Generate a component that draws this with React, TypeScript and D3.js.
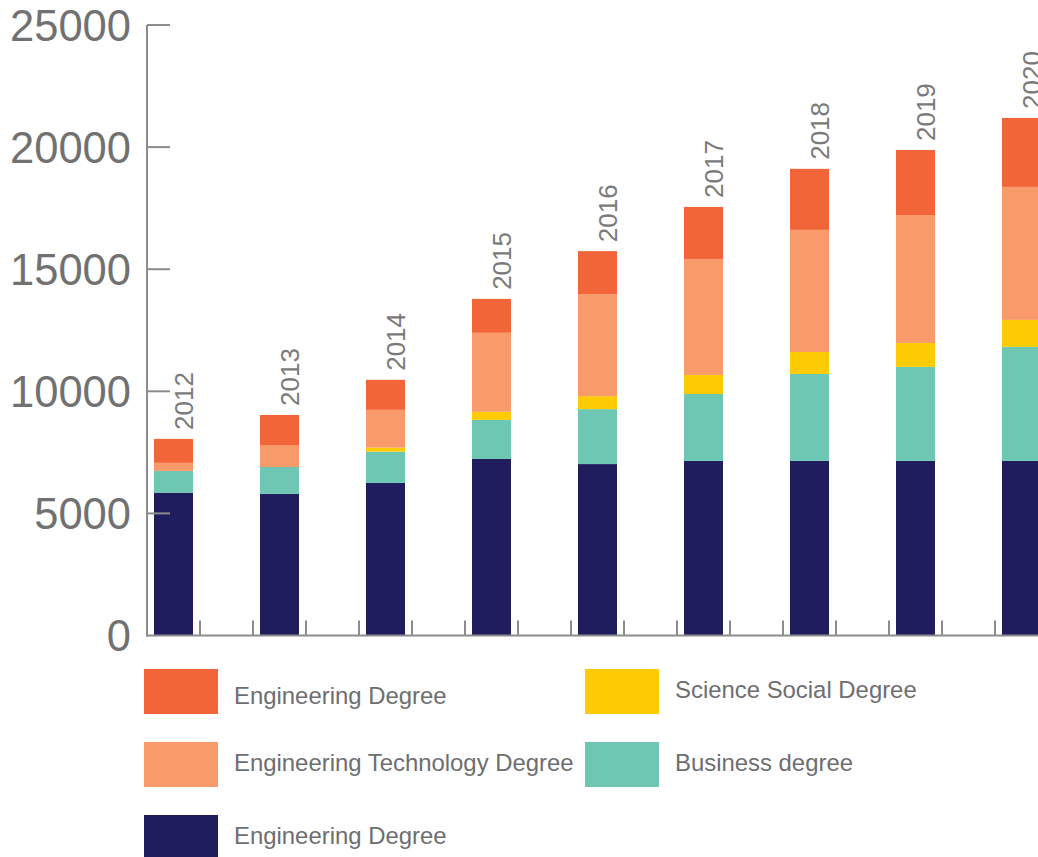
import React from "react";
import * as d3 from "d3";

const years = ["2012", "2013", "2014", "2015", "2016", "2017", "2018", "2019", "2020"];
const engineering = [5850, 5800, 6250, 7230, 7020, 7150, 7150, 7150, 7150];
const business = [890, 1100, 1280, 1600, 2250, 2740, 3560, 3850, 4670];
const scienceSocial = [0, 0, 165, 330, 530, 780, 900, 980, 1105];
const engTechnology = [330, 900, 1545, 3235, 4180, 4750, 5000, 5240, 5445];
const engineering2 = [980, 1230, 1230, 1390, 1760, 2130, 2500, 2660, 2825];
const yTicks = [0, 5000, 10000, 15000, 20000, 25000];

const seriesKeys = ["eng", "bus", "sci", "tech", "eng2"];
const seriesColors: Record<string, string> = {
  eng: "#201d5e",
  bus: "#6ec7b2",
  sci: "#fecb05",
  tech: "#f89a6a",
  eng2: "#f26538",
};

const legendItems = [
  { key: "eng2", label: "Engineering Degree", col: 0, row: 0 },
  { key: "tech", label: "Engineering Technology Degree", col: 0, row: 1 },
  { key: "eng", label: "Engineering Degree", col: 0, row: 2 },
  { key: "sci", label: "Science Social Degree", col: 1, row: 0 },
  { key: "bus", label: "Business degree", col: 1, row: 1 },
];

export default function App() {
  const W = 1038;
  const H = 857;
  const axisX = 147;
  const step = 106;
  const rows = years.map((y, i) => ({
    year: y,
    eng: engineering[i],
    bus: business[i],
    sci: scienceSocial[i],
    tech: engTechnology[i],
    eng2: engineering2[i],
  }));
  const stack = d3.stack<any>().keys(seriesKeys)(rows);

  const x = d3.scaleBand<string>().domain(years).range([axisX, axisX + step * years.length]);
  const y = d3.scaleLinear().domain([0, 25000]).range([635.5, 25]);
  const barOff = 7;
  const barW = 39;
  const axisColor = "#8c8c8c";
  const textColor = "#717171";
  const font = "'Liberation Sans', Arial, sans-serif";

  const colX = [144, 585];
  const textX = [234, 675];
  const rowY = [669, 742, 815];

  return (
    <svg width={W} height={H} style={{ position: "absolute", left: 0, top: 0, background: "#fff" }}>
      {/* bars */}
      {stack.map((s) => (
        <g key={s.key} fill={seriesColors[s.key]}>
          {s.map((d, i) => {
            const h = y(d[0]) - y(d[1]);
            if (h <= 0) return null;
            return (
              <rect
                key={i}
                x={(x(years[i]) as number) + barOff}
                y={y(d[1])}
                width={barW}
                height={h}
              />
            );
          })}
        </g>
      ))}

      {/* year labels */}
      {rows.map((r, i) => {
        const total = stack[stack.length - 1][i][1];
        const bx = (x(r.year) as number) + barOff + barW;
        const by = y(total) - 9;
        return (
          <text
            key={r.year}
            transform={`translate(${bx},${by}) rotate(-90)`}
            fontFamily={font}
            fontSize={26}
            fill="#7a7a7a"
            textAnchor="start"
          >
            {r.year}
          </text>
        );
      })}

      {/* y axis */}
      <line x1={axisX} x2={axisX} y1={y(25000)} y2={y(0) + 1} stroke={axisColor} strokeWidth={2} />
      {yTicks.map((t) => (
        <g key={t}>
          {t > 0 && (
            <line x1={axisX} x2={axisX + 23} y1={y(t)} y2={y(t)} stroke={axisColor} strokeWidth={2} />
          )}
          <text
            x={131}
            y={y(t)}
            dy="0.36em"
            textAnchor="end"
            fontFamily={font}
            fontSize={43.5}
            fill={textColor}
          >
            {t}
          </text>
        </g>
      ))}

      {/* x axis */}
      <line x1={axisX - 1} x2={W} y1={y(0)} y2={y(0)} stroke={axisColor} strokeWidth={2} />
      {years.map((yr) => {
        const b = x(yr) as number;
        return (
          <g key={yr}>
            <line x1={b + step / 2} x2={b + step / 2} y1={y(0)} y2={y(0) - 15} stroke={axisColor} strokeWidth={2} />
            <line x1={b + step} x2={b + step} y1={y(0)} y2={y(0) - 15} stroke={axisColor} strokeWidth={2} />
          </g>
        );
      })}

      {/* legend */}
      {legendItems.map((it) => (
        <g key={it.key + it.row + it.col}>
          <rect x={colX[it.col]} y={rowY[it.row]} width={74} height={45} fill={seriesColors[it.key]} />
          <text
            x={textX[it.col]}
            y={rowY[it.row] + (it.col === 0 && it.row === 0 ? 35 : 29)}
            fontFamily={font}
            fontSize={23.9}
            fill="#6d6e71"
          >
            {it.label}
          </text>
        </g>
      ))}
    </svg>
  );
}
